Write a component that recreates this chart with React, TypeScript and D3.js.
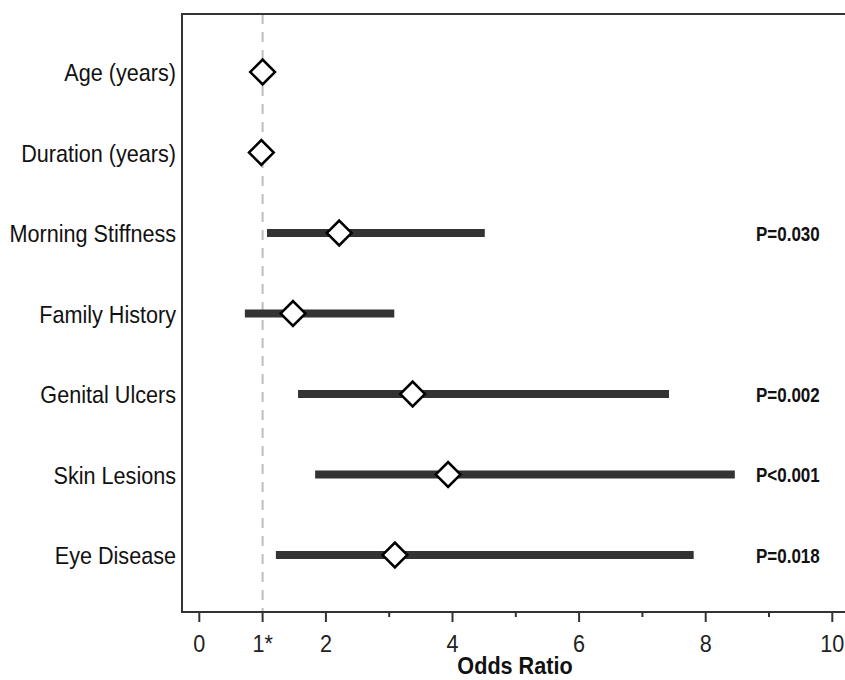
import React from 'react';
import * as d3 from 'd3';

// rows top to bottom
const categories = [
  'Age (years)',
  'Duration (years)',
  'Morning Stiffness',
  'Family History',
  'Genital Ulcers',
  'Skin Lesions',
  'Eye Disease',
];
const oddsRatio = [1.0, 0.98, 2.21, 1.48, 3.37, 3.93, 3.09];
const ciLow = [1.0, 0.98, 1.07, 0.72, 1.56, 1.83, 1.21];
const ciHigh = [1.0, 0.98, 4.51, 3.08, 7.42, 8.46, 7.81];
const pLabels = ['', '', 'P=0.030', '', 'P=0.002', 'P<0.001', 'P=0.018'];
const majorTicks = [0, 1, 2, 4, 6, 8, 10];
const minorTicks = [3, 5, 7, 9];
const tickText = (d: number) => (d === 1 ? '1*' : String(d));

const W = 845;
const H = 680;
const FONT = 'Liberation Sans, Arial, Helvetica, sans-serif';

// narrow-looking text: squeeze horizontally around the anchor point
const Narrow = ({ x, y, sx, children, ...rest }: any) => (
  <text transform={`translate(${x},${y}) scale(${sx},1)`} fontFamily={FONT} {...rest}>
    {children}
  </text>
);

const App = () => {
  const left = 182;
  const top = 14;
  const bottom = 612;

  const x = d3.scaleLinear().domain([0, 10]).range([199.3, 832.3]);
  const y = d3.scalePoint<string>().domain(categories).range([72, 555]);

  const diamond = d3.symbol().type(d3.symbolSquare).size(17.5 * 17.5)();

  return (
    <svg width={W} height={H} style={{ position: 'absolute', left: 0, top: 0, background: '#fff' }}>
      {/* reference line at OR = 1 */}
      <line
        x1={x(1)} x2={x(1)} y1={top} y2={bottom}
        stroke="#bdbdbd" strokeWidth={2} strokeDasharray="10,8"
      />

      {/* frame */}
      <path
        d={`M${W},${top}H${left}V${bottom}H${W}`}
        fill="none" stroke="#333" strokeWidth={2}
      />

      {/* ticks */}
      {majorTicks.map(t => (
        <g key={'M' + t}>
          <line x1={x(t)} x2={x(t)} y1={bottom} y2={bottom + 10} stroke="#333" strokeWidth={2} />
          <Narrow x={x(t)} y={652} sx={0.9} textAnchor="middle" fontSize={24} fill="#222">
            {tickText(t)}
          </Narrow>
        </g>
      ))}
      {minorTicks.map(t => (
        <line key={'m' + t} x1={x(t)} x2={x(t)} y1={bottom} y2={bottom + 5} stroke="#333" strokeWidth={2} />
      ))}

      <Narrow x={515} y={674} sx={0.94} textAnchor="middle" fontSize={23} fontWeight="bold" fill="#111">
        Odds Ratio
      </Narrow>

      {/* rows */}
      {categories.map((c, i) => {
        const cy = y(c) as number;
        return (
          <g key={c}>
            <Narrow x={176} y={cy + 9} sx={0.9} textAnchor="end" fontSize={24} fill="#111">
              {c}
            </Narrow>
            {ciHigh[i] > ciLow[i] && (
              <rect
                x={x(ciLow[i])} y={cy - 4} width={x(ciHigh[i]) - x(ciLow[i])} height={8}
                fill="#333"
              />
            )}
            <path
              d={diamond as string}
              transform={`translate(${x(oddsRatio[i])},${cy}) rotate(45)`}
              fill="#fff" stroke="#000" strokeWidth={2.5}
            />
            {pLabels[i] && (
              <Narrow x={756} y={cy + 7.5} sx={0.85} fontSize={20} fontWeight="bold" fill="#111">
                {pLabels[i]}
              </Narrow>
            )}
          </g>
        );
      })}
    </svg>
  );
};

export default App;
